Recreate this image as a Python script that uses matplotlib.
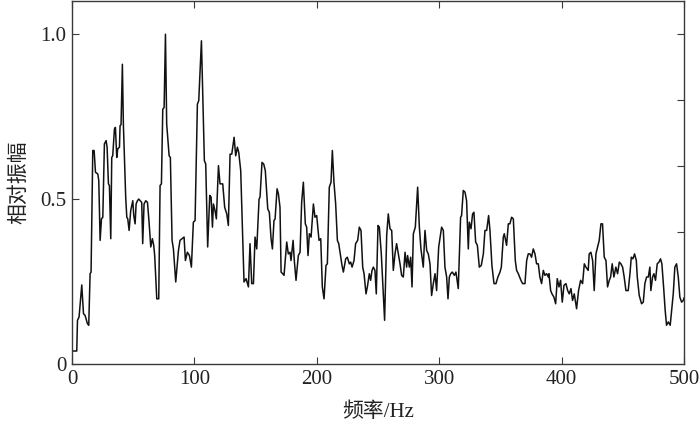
import numpy as np
import matplotlib
matplotlib.use("Agg")
import matplotlib.pyplot as plt

# values
freq = [0.0, 3.8, 4.4, 5.7, 7.9, 9.3, 10.6, 12.5, 13.6, 14.7, 15.5, 16.9, 18.0, 19.1, 21.0, 21.8,
        22.9, 24.0, 25.1, 26.4, 27.8, 28.6, 29.7, 30.5, 31.6, 32.4, 33.2, 34.6, 35.4, 36.5, 37.3,
        38.7, 39.2, 40.0, 41.1, 41.9, 42.8, 43.8, 44.7, 45.5, 46.6, 47.9, 49.6, 50.4, 51.5, 52.3,
        53.4, 54.5, 55.6,
        56.9, 57.7, 58.8, 60.2, 61.6, 62.9, 64.3, 65.6, 66.7, 67.5, 68.6, 69.2, 70.8, 71.9, 73.0,
        74.1, 75.2, 76.3, 77.3, 79.3, 80.3, 81.7, 82.8, 84.7, 86.9, 88.2, 89.9, 91.5, 92.6, 94.2,
        95.9, 97.5, 99.1, 100.5, 102.4, 103.5, 105.7, 106.8, 108.1, 109.2, 110.8, 112.5, 113.6,
        114.7, 115.5, 116.8, 117.9, 119.6, 120.9,
        123.1, 124.7, 126.4, 127.7, 129.1, 130.5, 132.4, 133.7, 135.1, 136.2, 137.8, 140.5, 142.2,
        144.1, 145.4, 146.8, 148.2, 149.5, 150.9, 152.8, 153.6, 155.2, 156.6, 157.9, 159.9, 161.2,
        162.6, 163.7, 165.0, 165.9, 167.5, 168.6, 169.9, 170.8, 172.1, 173.2, 175.4, 176.7, 178.1,
        178.9, 180.6, 181.6, 183.0, 184.9, 186.3, 187.6, 189.0, 190.6, 191.7, 192.8,
        193.9, 195.3, 197.2, 198.5, 199.9, 201.8, 203.2, 204.5, 205.9, 207.5, 208.6, 210.2, 211.6,
        212.7, 214.0, 215.4, 216.8, 217.9, 219.2, 220.6, 221.7, 223.6, 224.9, 226.6, 227.7, 228.8,
        230.4, 231.7, 233.4, 234.7, 236.1, 237.5, 238.6, 240.2, 241.3, 242.9, 244.0, 245.1, 246.2,
        247.5, 248.6, 250.0, 251.1, 252.7, 255.4, 257.1,
        258.4, 259.8, 261.2, 262.5, 263.9, 265.2, 266.6, 268.0, 269.3, 270.7, 272.1, 273.4, 274.2,
        275.6, 276.7, 277.8, 278.9, 280.5, 282.4, 283.8, 285.1, 287.0, 288.4, 289.8, 291.1, 292.5,
        293.8, 295.2, 296.6, 297.9, 299.6, 300.6, 302.0, 303.4, 304.7, 306.1, 307.2, 308.3, 309.4,
        310.7, 312.4, 313.7, 315.6, 317.5, 318.3, 319.7, 321.1, 322.4, 323.8,
        324.6, 326.0, 327.3, 328.4, 329.8, 331.2, 332.8, 334.4, 336.1, 337.4, 338.8, 340.4, 341.5,
        343.1, 344.8, 346.4, 348.0, 349.7, 350.8, 352.4, 353.2, 355.1, 356.5, 357.8, 359.2, 360.6,
        362.2, 363.3, 364.7, 366.8, 368.2, 370.1, 371.5, 372.8, 374.2, 375.5, 376.9, 378.3, 379.6,
        381.0, 382.3, 383.7, 385.1, 386.4, 387.8, 389.2,
        389.7, 391.1, 392.2, 393.8, 395.2, 396.5, 397.9, 399.2, 400.6, 402.0, 403.6, 405.0, 406.3,
        407.7, 409.0, 410.4, 412.3, 413.9, 415.6, 417.2, 418.6, 419.9, 421.8, 422.6, 424.0, 425.4,
        426.7, 428.1, 429.5, 430.8, 432.2, 433.5, 434.9, 436.3, 437.6, 439.0, 440.1, 441.4, 442.8,
        444.4, 445.8, 447.2, 448.5, 449.9, 451.2,
        452.6, 454.5, 455.9, 457.0, 458.3, 459.7, 461.1, 461.9, 463.5, 465.4, 466.8, 468.1, 469.5,
        470.9, 472.2, 473.0, 474.4, 475.5, 476.8, 478.2, 479.6, 480.9, 482.0, 483.4, 484.7, 485.8,
        487.2, 488.8, 490.2, 491.3, 492.6, 494.0, 495.4, 496.7, 498.1, 499.5, 500.0]

amp = [0.04, 0.04, 0.133, 0.143, 0.24, 0.153, 0.148, 0.123, 0.118, 0.274, 0.279, 0.647, 0.647, 0.581,
       0.576, 0.556, 0.375, 0.44, 0.445, 0.667, 0.677, 0.657, 0.546, 0.541, 0.38, 0.626, 0.631,
       0.712, 0.717, 0.626, 0.652, 0.657, 0.722, 0.725, 0.908, 0.727, 0.626, 0.506, 0.445, 0.44,
       0.405, 0.465, 0.495, 0.45, 0.425, 0.485, 0.495, 0.5, 0.495,
       0.49, 0.365, 0.485, 0.495, 0.49, 0.43, 0.355, 0.38, 0.36, 0.329, 0.244, 0.198, 0.198, 0.541,
       0.546, 0.772, 0.777, 0.999, 0.727, 0.631, 0.626, 0.375, 0.349, 0.249, 0.344, 0.375, 0.38,
       0.385, 0.314, 0.339, 0.329, 0.294, 0.43, 0.435, 0.787, 0.798, 0.979, 0.808, 0.616, 0.606,
       0.355, 0.511, 0.506, 0.415, 0.485, 0.465, 0.44, 0.601, 0.546,
       0.546, 0.475, 0.455, 0.42, 0.636, 0.636, 0.687, 0.631, 0.657, 0.641, 0.586, 0.249, 0.259,
       0.234, 0.365, 0.244, 0.244, 0.385, 0.349, 0.5, 0.506, 0.611, 0.606, 0.586, 0.47, 0.46,
       0.38, 0.349, 0.435, 0.44, 0.531, 0.516, 0.475, 0.279, 0.274, 0.269, 0.37, 0.334, 0.339,
       0.314, 0.375, 0.314, 0.254, 0.329, 0.339, 0.49, 0.551, 0.425, 0.415, 0.329,
       0.395, 0.385, 0.485, 0.445, 0.45, 0.375, 0.38, 0.234, 0.198, 0.299, 0.304, 0.536, 0.551,
       0.647, 0.551, 0.485, 0.375, 0.365, 0.334, 0.299, 0.279, 0.319, 0.324, 0.304, 0.309, 0.294,
       0.314, 0.365, 0.375, 0.415, 0.405, 0.294, 0.274, 0.213, 0.234, 0.274, 0.254, 0.284, 0.294,
       0.284, 0.213, 0.42, 0.415, 0.334, 0.133, 0.39,
       0.455, 0.41, 0.405, 0.284, 0.334, 0.365, 0.334, 0.304, 0.269, 0.264, 0.339, 0.294, 0.329,
       0.294, 0.324, 0.234, 0.395, 0.415, 0.536, 0.415, 0.349, 0.294, 0.405, 0.344, 0.334, 0.304,
       0.208, 0.244, 0.274, 0.223, 0.355, 0.38, 0.415, 0.405, 0.294, 0.264, 0.198, 0.264, 0.274,
       0.279, 0.269, 0.279, 0.229, 0.445, 0.45, 0.526, 0.521, 0.495, 0.349,
       0.43, 0.41, 0.455, 0.46, 0.37, 0.36, 0.294, 0.299, 0.334, 0.405, 0.405, 0.45, 0.405,
       0.299, 0.244, 0.244, 0.264, 0.279, 0.294, 0.385, 0.395, 0.36, 0.425, 0.425, 0.445, 0.44,
       0.314, 0.284, 0.274, 0.254, 0.244, 0.244, 0.314, 0.334, 0.334, 0.324, 0.349, 0.334, 0.304,
       0.304, 0.264, 0.244, 0.284, 0.269, 0.274, 0.264,
       0.274, 0.223, 0.213, 0.203, 0.183, 0.259, 0.234, 0.254, 0.188, 0.239, 0.244, 0.223, 0.213,
       0.229, 0.193, 0.213, 0.168, 0.223, 0.254, 0.244, 0.304, 0.294, 0.284, 0.334, 0.339, 0.314,
       0.223, 0.334, 0.355, 0.375, 0.425, 0.425, 0.324, 0.314, 0.234, 0.254, 0.264, 0.304, 0.264,
       0.294, 0.274, 0.309, 0.304, 0.294, 0.264,
       0.223, 0.223, 0.274, 0.324, 0.319, 0.334, 0.314, 0.264, 0.208, 0.183, 0.188, 0.244, 0.264,
       0.264, 0.294, 0.223, 0.264, 0.274, 0.254, 0.304, 0.309, 0.319, 0.304, 0.234, 0.163, 0.118,
       0.128, 0.118, 0.173, 0.213, 0.294, 0.304, 0.264, 0.203, 0.188, 0.193, 0.2]

x_ticks = [0, 100, 200, 300, 400, 500]
y_ticks = [0, 0.5, 1.0]
y_tick_labels = ["0", "0.5", "1.0"]
right_ticks = [0.4, 0.6, 0.8, 1.0]

plt.rcParams['font.family'] = ['Liberation Serif', 'Noto Sans CJK SC']
ax_col = "#3a3a3a"

fig = plt.figure(figsize=(7, 4.28), dpi=100)
ax = fig.add_axes([0.103, 0.149, 0.874, 0.849])
ax.plot(freq, amp, color="#111111", lw=1.1)
ax.set_xlim(0, 500)
ax.set_ylim(0, 1.1)
ax.set_xticks(x_ticks)
ax.set_yticks(y_ticks)
ax.set_yticklabels(y_tick_labels)
ax.tick_params(direction="in", length=5, labelsize=15, colors=ax_col, labelcolor="#222222",
               top=True, right=False, pad=4)
for s in ax.spines.values():
    s.set_color(ax_col)
    s.set_linewidth(1.0)

ax2 = ax.twinx()
ax2.set_ylim(0, 1.1)
ax2.set_yticks(right_ticks)
ax2.tick_params(direction="in", length=5, labelright=False, colors=ax_col)
for s in ax2.spines.values():
    s.set_visible(False)

ax.set_xlabel("频率/Hz", fontsize=15, color="#222222", labelpad=10)
ax.set_ylabel("相对振幅", fontsize=15, color="#222222", labelpad=8)

fig.savefig("out.png", dpi=100)
